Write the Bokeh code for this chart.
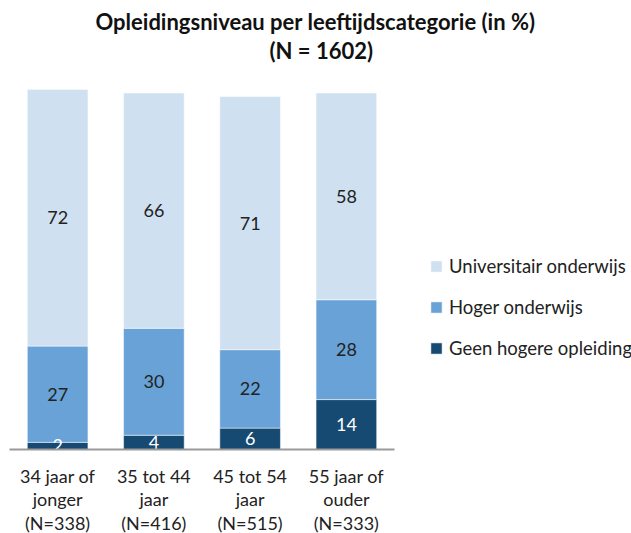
from bokeh.plotting import figure
from bokeh.models import ColumnDataSource, Range1d, FactorRange, Legend, LegendItem, Title
from bokeh.core.properties import value
from bokeh.embed import file_html
from bokeh.resources import INLINE

categories = ["34 jaar of\njonger\n(N=338)", "35 tot 44\njaar\n(N=416)",
              "45 tot 54\njaar\n(N=515)", "55 jaar of\nouder\n(N=333)"]
geen = [2, 4, 6, 14]
hoger = [27, 30, 22, 28]
univ = [72, 66, 71, 58]
series_names = ["Geen hogere opleiding", "Hoger onderwijs", "Universitair onderwijs"]
colors = ["#174a73", "#68a2d7", "#cfe0f1"]
label_colors = ["#ffffff", "#222222", "#222222"]

FONT = "Lato"

source = ColumnDataSource(dict(cat=categories, geen=geen, hoger=hoger, univ=univ))

p = figure(x_range=FactorRange(*categories, range_padding=0), y_range=Range1d(0, 103.5),
           frame_width=385, frame_height=369, output_backend="svg", toolbar_location=None,
           min_border_left=9, min_border_right=228, min_border_top=80, min_border_bottom=84)
p.title.visible = False

renderers = p.vbar_stack(["geen", "hoger", "univ"], x="cat", width=0.63, color=colors,
                         line_color="white", line_alpha=0.5, line_width=1, source=source)

keys = ["geen", "hoger", "univ"]
vals = [geen, hoger, univ]
bottoms = [0] * len(categories)
for k, v, c in zip(keys, vals, label_colors):
    mids = [b + x / 2 for b, x in zip(bottoms, v)]
    p.text(x=categories, y=mids, text=[str(x) for x in v], text_align="center",
           text_baseline="middle", text_font=value(FONT), text_font_size="18px",
           text_color=c)
    bottoms = [b + x for b, x in zip(bottoms, v)]

p.yaxis.visible = False
p.xgrid.visible = False
p.ygrid.visible = False
p.outline_line_color = None

ax = p.xaxis[0]
ax.major_tick_line_color = None
ax.minor_tick_line_color = None
ax.axis_line_color = "#9a9a9a"
ax.axis_line_width = 2
ax.major_label_text_font = FONT
ax.major_label_text_font_size = "18px"
ax.major_label_text_color = "#222222"
ax.major_label_standoff = 9
ax.major_label_text_line_height = 1.08

legend = Legend(items=[LegendItem(label=series_names[i], renderers=[renderers[i]]) for i in [2, 1, 0]],
                location=(35, 90), margin=0, padding=0, spacing=19,
                glyph_width=14, glyph_height=14, label_standoff=6,
                label_text_font=FONT, label_text_font_size="18.5px", label_text_color="#222222",
                border_line_color=None, background_fill_alpha=0)
p.add_layout(legend, "right")

p.add_layout(Title(text=" ", text_font_size="1px", standoff=14), "above")
p.add_layout(Title(text="(N = 1602)", align="left", offset=260, standoff=0, text_font=FONT,
                   text_font_size="22px", text_font_style="bold", text_color="#111111"), "above")
p.add_layout(Title(text="Opleidingsniveau per leeftijdscategorie (in %)", align="left", offset=86,
                   standoff=0, text_font=FONT, text_font_size="22px", text_font_style="bold",
                   text_color="#111111"), "above")

open("out.html", "w").write(file_html(p, INLINE))
